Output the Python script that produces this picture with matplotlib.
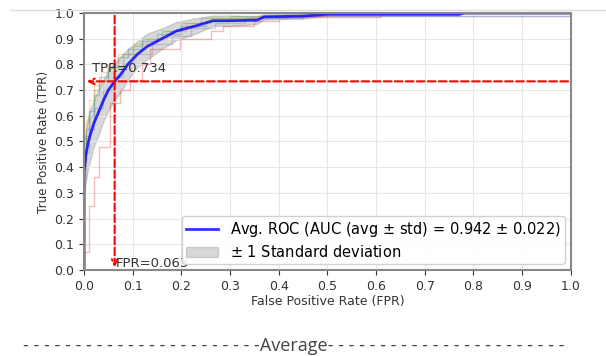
import numpy as np
import matplotlib.pyplot as plt
from matplotlib.lines import Line2D

# mean ROC curve
mean_fpr = [0.0, 0.0, 0.004, 0.008, 0.012, 0.02, 0.029, 0.04, 0.05, 0.063,
            0.075, 0.09, 0.11, 0.13, 0.16, 0.19, 0.23, 0.265, 0.3, 0.355,
            0.37, 0.45, 0.5, 0.77, 0.78, 1.0]
mean_tpr = [0.0, 0.38, 0.45, 0.49, 0.52, 0.57, 0.61, 0.66, 0.70, 0.734,
            0.76, 0.80, 0.84, 0.87, 0.90, 0.93, 0.95, 0.97, 0.97, 0.972,
            0.985, 0.988, 0.995, 0.995, 1.0, 1.0]
std_tpr = [0.0, 0.10, 0.10, 0.10, 0.10, 0.09, 0.09, 0.08, 0.08, 0.07,
           0.07, 0.06, 0.05, 0.05, 0.04, 0.035, 0.03, 0.02, 0.02, 0.015,
           0.01, 0.01, 0.005, 0.005, 0.0, 0.0]

# individual folds
fold_fpr = [
    [0, 0, 0.005, 0.01, 0.02, 0.03, 0.05, 0.07, 0.09, 0.12, 0.15, 0.2, 0.25, 0.3, 0.45, 1],
    [0, 0, 0.005, 0.01, 0.02, 0.035, 0.05, 0.07, 0.1, 0.13, 0.17, 0.21, 0.26, 0.35, 0.5, 1],
    [0, 0, 0.005, 0.01, 0.02, 0.03, 0.05, 0.08, 0.1, 0.12, 0.16, 0.2, 0.24, 0.3, 0.4, 1],
    [0, 0, 0.01, 0.02, 0.03, 0.053, 0.074, 0.094, 0.12, 0.135, 0.197, 0.26, 0.285, 0.35, 0.4, 0.44, 0.61, 1],
    [0, 0, 0.005, 0.01, 0.02, 0.04, 0.06, 0.08, 0.1, 0.14, 0.18, 0.22, 0.27, 0.33, 0.42, 1],
]
fold_tpr = [
    [0, 0.45, 0.55, 0.62, 0.7, 0.75, 0.79, 0.83, 0.86, 0.89, 0.92, 0.95, 0.97, 0.98, 0.99, 1],
    [0, 0.5, 0.58, 0.66, 0.72, 0.77, 0.8, 0.84, 0.88, 0.9, 0.93, 0.96, 0.98, 0.99, 1.0, 1],
    [0, 0.42, 0.52, 0.6, 0.68, 0.74, 0.79, 0.84, 0.87, 0.9, 0.93, 0.96, 0.98, 0.99, 1.0, 1],
    [0, 0.07, 0.25, 0.36, 0.48, 0.65, 0.70, 0.74, 0.8, 0.86, 0.9, 0.93, 0.95, 0.97, 0.985, 0.985, 1.0, 1],
    [0, 0.35, 0.46, 0.55, 0.63, 0.7, 0.75, 0.8, 0.84, 0.88, 0.91, 0.94, 0.96, 0.98, 0.99, 1],
]
fold_colors = ['tab:blue', 'tab:orange', 'tab:green', 'tab:red', 'tab:purple']

opt_fpr = 0.063
opt_tpr = 0.734
auc_avg = 0.942
auc_std = 0.022

fig = plt.figure(figsize=(6.06, 3.56), dpi=100)
ax = fig.add_axes([0.1386, 0.2416, 0.8034, 0.7219])

for f, t, c in zip(fold_fpr, fold_tpr, fold_colors):
    ax.plot(f, t, color=c, lw=1, alpha=0.3, drawstyle='steps-post')

mean_tpr = np.array(mean_tpr)
std_tpr = np.array(std_tpr)
upper = np.minimum(mean_tpr + std_tpr, 1)
lower = np.maximum(mean_tpr - std_tpr, 0)
ax.fill_between(mean_fpr, lower, upper, color='grey', alpha=0.3,
                label=r'$\pm$ 1 Standard deviation')
ax.plot(mean_fpr, mean_tpr, color='b', lw=2, alpha=0.8,
        label=r'Avg. ROC (AUC (avg $\pm$ std) = %0.3f $\pm$ %0.3f)' % (auc_avg, auc_std))

# optimal point guides
ax.annotate('', xy=(opt_fpr, 0), xytext=(opt_fpr, 1.0),
            arrowprops=dict(arrowstyle='->', color='red', ls='--', lw=1.5))
ax.annotate('', xy=(0, opt_tpr), xytext=(1.0, opt_tpr),
            arrowprops=dict(arrowstyle='->', color='red', ls='--', lw=1.5))
ax.text(0.016, 0.77, 'TPR=%0.3f' % opt_tpr, fontsize=9.5, color='#333333')
ax.text(0.066, 0.01, 'FPR=%0.3f' % opt_fpr, fontsize=9.5, color='#333333')

ax.set_xlim(0, 1)
ax.set_ylim(0, 1)
ax.set_xticks(np.arange(0, 1.01, 0.1))
ax.set_yticks(np.arange(0, 1.01, 0.1))
ax.tick_params(labelsize=9, colors='#333333')
ax.grid(True, color='#e6e6e6', lw=0.8)
for s in ax.spines.values():
    s.set_color('#888888')
    s.set_linewidth(1.5)
ax.set_xlabel('False Positive Rate (FPR)', fontsize=9, color='#333333', labelpad=2)
ax.set_ylabel('True Positive Rate (TPR)', fontsize=8.6, color='#333333', labelpad=3)

handles, labels = ax.get_legend_handles_labels()
leg = ax.legend(handles[::-1], labels[::-1], loc='lower right', fontsize=10.5,
                framealpha=0.9, borderaxespad=0.4, labelspacing=0.3,
                borderpad=0.3, handlelength=2.2)
leg.set_zorder(10)

# screenshot line at the top and caption underneath
fig.add_artist(Line2D([0.016, 1.0], [0.972, 0.972], color='#dddddd', lw=1))
dashes = '- ' * 22 + '-'
fig.text(0.484, 0.028, dashes + 'Average' + dashes[::-1],
         ha='center', va='center', fontsize=13, color='#444444',
         family=['Open Sans', 'DejaVu Sans'])

fig.savefig('out.png', dpi=100)
